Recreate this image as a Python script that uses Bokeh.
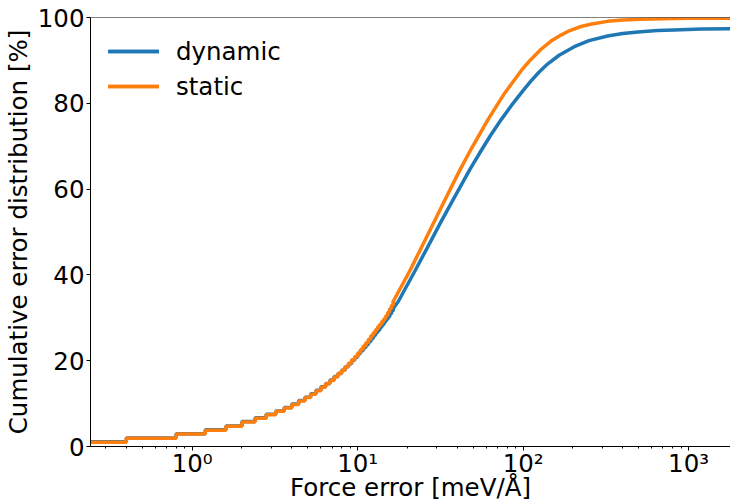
from bokeh.plotting import figure
from bokeh.models import (Range1d, FixedTicker, LogTicker, CustomJSTickFormatter,
                          Span, Legend, LegendItem)
from bokeh.embed import file_html
from bokeh.resources import INLINE

# ---------------- data ----------------
# histogram bin edges (bin width 0.4 meV/A); first edge stands for the open lower end
step_edges = [0.2, 0.4, 0.8, 1.2, 1.6, 2.0, 2.4, 2.8, 3.2, 3.6, 4.0, 4.4, 4.8, 5.2,
              5.6, 6.0, 6.4, 6.8, 7.2, 7.6, 8.0, 8.4, 8.8, 9.2, 9.6, 10.0, 10.4,
              10.8, 11.2, 11.6, 12.0, 12.4, 12.8, 13.2, 13.6, 14.0, 14.4, 14.8,
              15.2, 15.6, 16.0, 16.4]
dynamic_step = [1.1, 2.0, 3.0, 3.9, 4.8, 5.8, 6.7, 7.5, 8.3, 9.1, 9.9, 10.7, 11.5,
                12.3, 13.1, 13.9, 14.7, 15.5, 16.3, 17.0, 17.8, 18.6, 19.3, 20.1,
                20.8, 21.6, 22.3, 23.0, 23.7, 24.4, 25.1, 25.8, 26.5, 27.1, 27.8,
                28.4, 29.0, 29.6, 30.2, 30.9, 31.6, 32.2]
static_step = [1.0, 1.9, 2.9, 3.8, 4.7, 5.7, 6.6, 7.4, 8.2, 9.0, 9.8, 10.6, 11.4,
               12.2, 13.0, 13.8, 14.6, 15.4, 16.2, 17.0, 17.8, 18.6, 19.4, 20.2,
               21.0, 21.8, 22.6, 23.4, 24.2, 25.0, 25.8, 26.5, 27.2, 27.9, 28.5,
               29.2, 29.8, 30.5, 31.3, 32.1, 32.9, 33.8]

# smooth part of the cumulative distributions
dynamic_x = [16.4, 17.6, 22.1, 26.0, 32.1, 37.7, 47.5, 55.8, 63.5, 73.7, 85.0,
             99.6, 111.0, 125.0, 141.0, 165.0, 203.7, 250.0, 323.7, 400.0, 513.8,
             650.0, 815.0, 1200.0, 1791.0]
dynamic_y = [32.2, 33.8, 40.8, 45.9, 52.6, 57.5, 64.5, 69.0, 72.5, 76.2, 79.5,
             82.9, 85.1, 87.3, 89.2, 91.2, 93.2, 94.6, 95.7, 96.25, 96.7,
             96.95, 97.1, 97.3, 97.4]
static_x = [16.4, 20.7, 24.3, 29.2, 33.6, 41.3, 48.6, 61.3, 77.1, 97.3, 110.0,
            128.3, 147.5, 169.4, 190.0, 223.6, 260.0, 323.7, 400.0, 513.8, 700.0,
            1000.0, 1791.0]
static_y = [33.8, 41.0, 46.4, 52.6, 57.4, 64.3, 69.4, 76.2, 82.3, 87.6, 90.0,
            92.6, 94.5, 95.9, 96.9, 97.9, 98.5, 99.1, 99.4, 99.6, 99.72,
            99.8, 99.85]

y_ticks = [0, 20, 40, 60, 80, 100]
x_min, x_max = 0.243, 1791.0
y_min, y_max = 0, 100

BLUE = "#1f77b4"
ORANGE = "#ff7f0e"
FONT = "DejaVu Sans"
FS = "24.5px"

p = figure(width=730, height=504, x_axis_type="log",
           x_range=Range1d(x_min, x_max), y_range=Range1d(y_min, y_max),
           output_backend="svg", toolbar_location=None,
           min_border_left=88, min_border_right=0, min_border_top=17,
           min_border_bottom=58)
p.grid.visible = False
p.outline_line_color = None
p.background_fill_color = "white"
p.border_fill_color = "white"

# top spine
p.add_layout(Span(location=y_max, dimension="width", line_color="black", line_width=1))

lw = 3.5
r_dyn_s = p.step(step_edges, dynamic_step, mode="after", line_color=BLUE, line_width=lw)
r_dyn_l = p.line(dynamic_x, dynamic_y, line_color=BLUE, line_width=lw,
                 line_cap="round", line_join="round")
r_sta_s = p.step(step_edges, static_step, mode="after", line_color=ORANGE, line_width=lw)
r_sta_l = p.line(static_x, static_y, line_color=ORANGE, line_width=lw,
                 line_cap="round", line_join="round")

# axes
p.xaxis.ticker = LogTicker(mantissas=[1], num_minor_ticks=10, desired_num_ticks=5)
p.xaxis.formatter = CustomJSTickFormatter(code="""
const sup = {"0":"\u2070","1":"\u00b9","2":"\u00b2","3":"\u00b3","4":"\u2074",
             "5":"\u2075","6":"\u2076","7":"\u2077","8":"\u2078","9":"\u2079","-":"\u207b"};
const e = Math.round(Math.log10(tick));
return "10" + String(e).split("").map(c => sup[c]).join("");
""")
p.yaxis.ticker = FixedTicker(ticks=y_ticks)

for ax in (p.xaxis[0], p.yaxis[0]):
    ax.axis_line_color = "black"
    ax.axis_line_width = 1
    ax.major_tick_line_color = "black"
    ax.major_tick_in = 0
    ax.major_tick_out = 4
    ax.minor_tick_in = 0
    ax.minor_tick_out = 2
    ax.major_label_text_font = FONT
    ax.major_label_text_font_size = FS
    ax.major_label_text_color = "black"
    ax.axis_label_text_font = FONT
    ax.axis_label_text_font_size = FS
    ax.axis_label_text_font_style = "normal"
    ax.axis_label_text_color = "black"
p.xaxis.minor_tick_line_color = "black"
p.yaxis.minor_tick_line_color = None

p.xaxis.axis_label = "Force error [meV/Å]"
p.yaxis.axis_label = "Cumulative error distribution [%]"
p.xaxis.major_label_standoff = -2
p.xaxis.axis_label_standoff = -8
p.yaxis.major_label_standoff = 2
p.yaxis.axis_label_standoff = 2

legend = Legend(items=[LegendItem(label="dynamic", renderers=[r_dyn_s, r_dyn_l]),
                       LegendItem(label="static", renderers=[r_sta_s, r_sta_l])],
                location="top_left", margin=18, padding=0,
                glyph_width=51, glyph_height=32, label_height=32, spacing=3,
                label_standoff=17, label_text_font=FONT, label_text_font_size=FS,
                label_text_color="black",
                background_fill_alpha=0, border_line_color=None)
p.add_layout(legend)

open("out.html", "w").write(file_html(p, INLINE))
